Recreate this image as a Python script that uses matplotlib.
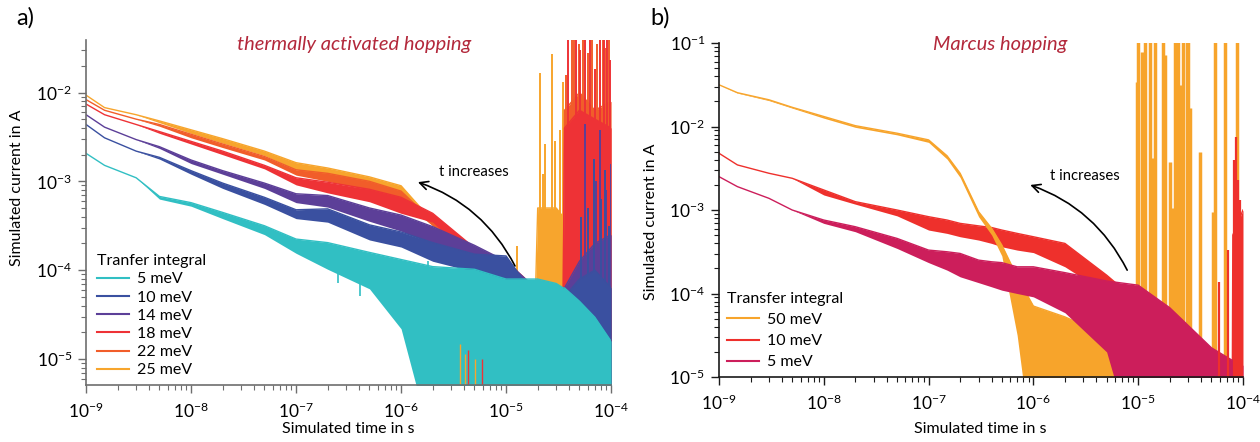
import numpy as np
import matplotlib.pyplot as plt
from matplotlib.ticker import LogLocator, NullFormatter

plt.rcParams['font.family'] = ['Lato', 'DejaVu Sans']
plt.rcParams['mathtext.default'] = 'regular'

# ---- panel a) thermally activated hopping ; currents as log10(I / A) ----
t_a = [1e-9, 1.5e-9, 3e-9, 5e-9, 1e-8, 2e-8, 5e-8, 1e-7, 2e-7, 5e-7, 1e-6, 2e-6,
       5e-6, 1e-5, 1.9e-5, 2e-5, 3e-5, 3.5e-5, 3.6e-5, 5e-5, 7e-5, 1e-4]

a5_hi = [-2.685, -2.82, -2.96, -3.17, -3.24, -3.35, -3.50, -3.65, -3.69, -3.80, -3.88,
         -3.96, -3.99, -4.10, -4.10, -4.10, -4.15, -4.20, -4.20, -4.35, -4.53, -4.80]
a5_lo = [-2.685, -2.82, -2.96, -3.20, -3.28, -3.42, -3.60, -3.81, -3.99, -4.21, -4.66,
         -6, -6, -6, -6, -6, -6, -6, -6, -6, -6, -6]
a10_hi = [-2.36, -2.51, -2.66, -2.73, -2.88, -3.02, -3.18, -3.32, -3.31, -3.49, -3.57,
          -3.69, -3.82, -3.84, -4.30, -4.30, -4.30, -4.30, -4.30, -4.10, -4.00, -4.20]
a10_lo = [-2.36, -2.51, -2.66, -2.75, -2.92, -3.08, -3.26, -3.42, -3.46, -3.66, -3.74,
          -3.90, -4.02, -4.20, -6, -6, -6, -6, -6, -6, -6, -6]
a14_hi = [-2.25, -2.39, -2.53, -2.61, -2.76, -2.88, -3.02, -3.14, -3.16, -3.30, -3.38,
          -3.51, -3.72, -3.90, -4.20, -4.20, -4.20, -4.20, -4.20, -3.90, -3.70, -3.60]
a14_lo = [-2.25, -2.39, -2.53, -2.63, -2.80, -2.92, -3.08, -3.24, -3.29, -3.45, -3.56,
          -3.71, -3.88, -4.00, -6, -6, -6, -6, -6, -6, -6, -6]
a18_hi = [-2.13, -2.25, -2.36, -2.44, -2.55, -2.66, -2.82, -2.96, -3.01, -3.09, -3.18,
          -3.36, -3.75, -3.90, -4.20, -4.20, -4.20, -4.20, -2.40, -2.20, -2.30, -2.40]
a18_lo = [-2.13, -2.25, -2.36, -2.46, -2.58, -2.70, -2.86, -3.04, -3.13, -3.23, -3.36,
          -3.46, -3.90, -4.00, -6, -6, -6, -6, -6, -6, -6, -6]
a22_hi = [-2.08, -2.20, -2.30, -2.36, -2.47, -2.58, -2.72, -2.87, -2.91, -3.00, -3.11,
          -3.45, -3.80, -4.20, -4.20, -4.20, -4.20, -4.20, -2.20, -2.00, -2.20, -2.10]
a22_lo = [-2.08, -2.20, -2.30, -2.38, -2.51, -2.62, -2.76, -2.93, -3.00, -3.10, -3.22,
          -3.50, -3.90, -4.30, -6, -6, -6, -6, -6, -6, -6, -6]
a25_hi = [-2.03, -2.17, -2.25, -2.32, -2.42, -2.52, -2.66, -2.79, -2.85, -2.95, -3.05,
          -3.45, -3.80, -4.30, -4.30, -3.30, -3.30, -3.40, -4.30, -4.50, -4.50, -4.50]
a25_lo = [-2.03, -2.17, -2.25, -2.34, -2.46, -2.57, -2.71, -2.87, -2.95, -3.05, -3.15,
          -3.50, -3.90, -4.40, -6, -6, -6, -6, -6, -6, -6, -6]

# single spikes (time, log10 of tip)
a25_spk_t = [1.27e-5, 2.11e-5, 2.25e-5, 2.35e-5, 2.74e-5, 2.93e-5, 3.27e-5, 3.49e-5]
a25_spk_y = [-3.73, -1.78, -2.92, -2.58, -1.57, -2.55, -2.42, -1.88]
a22_spk_t = [3.72e-5, 4.2e-5, 4.4e-5, 4.9e-5, 5.4e-5, 6.0e-5, 6.6e-5, 7.4e-5, 8.4e-5, 8.9e-5, 9.6e-5]
a22_spk_y = [-1.80, -1.3, -1.3, -1.45, -1.3, -1.55, -1.3, -1.45, -1.3, -1.5, -1.3]
a18_spk_t = [3.9e-5, 4.65e-5, 5.1e-5, 5.65e-5, 6.3e-5, 7.05e-5, 7.85e-5, 8.6e-5, 9.2e-5, 9.8e-5]
a18_spk_y = [-1.3, -1.3, -1.52, -1.3, -1.3, -1.74, -1.3, -1.3, -1.3, -1.63]
a14_spk_t = [5.65e-5, 7.2e-5, 7.85e-5, 9.0e-5, 9.9e-5]
a14_spk_y = [-2.36, -3.0, -2.42, -3.1, -2.8]
a10_spk_t = [5.2e-5, 6.0e-5, 6.8e-5, 8.0e-5, 8.8e-5, 9.5e-5]
a10_spk_y = [-3.4, -3.3, -2.75, -3.2, -2.87, -3.5]
a5_dip_t = [2.5e-7, 4.07e-7, 7.5e-7, 1.22e-6, 1.81e-6]
a5_dip_y = [-4.15, -4.29, -4.40, -4.85, -6.0]
a_low_t = [3.65e-6, 4.07e-6, 4.35e-6, 5.07e-6, 5.9e-6]
a_low_y = [-4.83, -4.94, -4.90, -5.0, -5.0]

# ---- panel b) Marcus hopping ----
t_b = [1e-9, 1.5e-9, 3e-9, 5e-9, 1e-8, 2e-8, 5e-8, 1e-7, 1.5e-7, 2e-7, 3e-7, 4e-7,
       5e-7, 7e-7, 1e-6, 2e-6, 5e-6, 1e-5, 2e-5, 5e-5, 7.9e-5, 8e-5, 1e-4]

b50_hi = [-1.50, -1.595, -1.68, -1.77, -1.88, -1.99, -2.08, -2.16, -2.35, -2.56, -3.02, -3.22,
          -3.42, -3.80, -4.15, -4.28, -4.50, -4.70, -4.80, -5.2, -5.2, -5.2, -5.2]
b50_lo = [-1.50, -1.60, -1.69, -1.78, -1.90, -2.01, -2.10, -2.19, -2.39, -2.61, -3.08, -3.30,
          -3.55, -4.50, -6, -6, -6, -6, -6, -6, -6, -6, -6]
b10_hi = [-2.32, -2.46, -2.56, -2.62, -2.76, -2.90, -3.00, -3.08, -3.12, -3.16, -3.19, -3.21,
          -3.24, -3.28, -3.32, -3.40, -3.78, -4.10, -4.60, -5.20, -5.20, -3.30, -3.00]
b10_lo = [-2.32, -2.46, -2.56, -2.62, -2.82, -2.93, -3.07, -3.24, -3.28, -3.32, -3.36, -3.40,
          -3.44, -3.48, -3.51, -3.68, -4.00, -6, -6, -6, -6, -6, -6]
b5_hi = [-2.60, -2.72, -2.86, -3.00, -3.12, -3.20, -3.34, -3.48, -3.50, -3.52, -3.60, -3.62,
         -3.63, -3.68, -3.68, -3.75, -3.85, -3.90, -4.17, -4.65, -4.80, -4.80, -4.86]
b5_lo = [-2.60, -2.72, -2.86, -3.00, -3.16, -3.26, -3.46, -3.63, -3.72, -3.80, -3.87, -3.92,
         -3.96, -4.00, -4.04, -4.23, -4.70, -6, -6, -6, -6, -6, -6]

b50_spk_t = [9.75e-6, 9.95e-6, 1.09e-5, 1.16e-5, 1.30e-5, 1.38e-5, 1.45e-5, 1.73e-5, 1.80e-5,
             2.01e-5, 2.15e-5, 2.25e-5, 2.40e-5, 2.51e-5, 2.67e-5, 2.92e-5, 2.98e-5, 3.12e-5,
             3.89e-5, 5.18e-5, 5.41e-5, 6.73e-5, 8.77e-5]
b50_spk_y = [-1.47, -0.9, -1.11, -0.9, -0.9, -2.38, -0.9, -0.9, -1.14, -2.43, -2.98, -0.9,
             -0.9, -1.50, -0.9, -0.9, -0.9, -1.78, -2.31, -3.02, -0.9, -0.9, -0.9]
b10_spk_t = [5.9e-5, 7.2e-5, 8.2e-5, 8.57e-5, 8.96e-5, 9.37e-5, 9.8e-5]
b10_spk_y = [-3.86, -3.48, -2.40, -2.13, -2.64, -2.88, -3.24]

x_ticks = [1e-9, 1e-8, 1e-7, 1e-6, 1e-5, 1e-4]
a_yticks = [1e-5, 1e-4, 1e-3, 1e-2]
b_yticks = [1e-5, 1e-4, 1e-3, 1e-2, 1e-1]

c5, c10, c14, c18, c22, c25 = '#31bfc3', '#3a50a0', '#5c3f98', '#ee3236', '#f15d2a', '#f7a52d'
m50, m10, m5 = '#f7a42b', '#ee302c', '#cc1e5b'
title_col = '#b3283b'


def band(ax, t, hi, lo, color, label, z):
    hi = 10.0 ** np.array(hi)
    lo = 10.0 ** np.array(lo)
    ax.fill_between(t, lo, hi, color=color, lw=0, zorder=z)
    line, = ax.plot(t, hi, color=color, lw=1.0, label=label, zorder=z)
    return line


def spikes(ax, t, tips, base, color, z, lw=1.4):
    ax.vlines(t, 10.0 ** base, 10.0 ** np.array(tips), color=color, lw=lw, zorder=z)


def style(ax, ylim, yticks, spine_col):
    ax.set_xscale('log')
    ax.set_yscale('log')
    ax.set_xlim(1e-9, 1e-4)
    ax.set_ylim(*ylim)
    ax.set_xticks(x_ticks)
    ax.set_yticks(yticks)
    for s in ['top', 'right']:
        ax.spines[s].set_visible(False)
    for s in ['left', 'bottom']:
        ax.spines[s].set_color(spine_col)
        ax.spines[s].set_linewidth(1.2)
        ax.spines[s].set_zorder(20)
    for axis in [ax.xaxis, ax.yaxis]:
        axis.set_minor_locator(LogLocator(base=10, subs=np.arange(2, 10), numticks=20))
        axis.set_minor_formatter(NullFormatter())
    ax.tick_params(which='major', length=6, width=1, color=spine_col, labelsize=12.5)
    ax.tick_params(which='minor', length=3.5, width=0.8, color=spine_col)
    ax.tick_params(axis='x', which='major', pad=6)
    ax.tick_params(axis='y', which='major', pad=4)


fig = plt.figure(figsize=(12.6, 4.42), dpi=100)

# ---------------- panel a ----------------
ax1 = fig.add_axes([0.0683, 0.129, 0.4167, 0.7805])
l25 = band(ax1, t_a, a25_hi, a25_lo, c25, '25 meV', 2)
spikes(ax1, a25_spk_t, a25_spk_y, -4.2, c25, 2)
l22 = band(ax1, t_a, a22_hi, a22_lo, c22, '22 meV', 3)
spikes(ax1, a22_spk_t, a22_spk_y, -4.0, c22, 3)
l18 = band(ax1, t_a, a18_hi, a18_lo, c18, '18 meV', 4)
spikes(ax1, a18_spk_t, a18_spk_y, -4.0, c18, 4)
l14 = band(ax1, t_a, a14_hi, a14_lo, c14, '14 meV', 5)
spikes(ax1, a14_spk_t, a14_spk_y, -4.0, c14, 5)
l10 = band(ax1, t_a, a10_hi, a10_lo, c10, '10 meV', 6)
spikes(ax1, a10_spk_t, a10_spk_y, -4.2, c10, 6)
l5 = band(ax1, t_a, a5_hi, a5_lo, c5, '5 meV', 7)
ax1.vlines(a5_dip_t, 10.0 ** np.array(a5_dip_y), 10.0 ** -3.9, color=c5, lw=1.2, zorder=7)
ax1.vlines(a_low_t, 1e-6, 10.0 ** np.array(a_low_y), color=[c25, c25, c18, c25, c18],
           lw=1.0, zorder=8)
style(ax1, (5.1e-6, 0.039), a_yticks, '#6e6e6e')

leg1 = ax1.legend(handles=[l5, l10, l14, l18, l22, l25], title='Tranfer integral',
                  loc='upper left', bbox_to_anchor=(0.021, 0.379), frameon=False,
                  fontsize=11.5, title_fontsize=11.5, handlelength=2.0, handletextpad=0.5,
                  labelspacing=0.25, borderpad=0, borderaxespad=0, alignment='left')
leg1.set_zorder(30)
for h in leg1.legend_handles:
    h.set_linewidth(1.5)

ax1.text(0.51, 0.971, 'thermally activated hopping', transform=ax1.transAxes,
         ha='center', va='baseline', fontsize=14.5, style='italic', color=title_col)
ax1.text(0.739, 0.617, 't increases', transform=ax1.transAxes, ha='center', va='center',
         fontsize=10.7, zorder=30)
ax1.annotate('', xy=(0.632, 0.588), xycoords='axes fraction',
             xytext=(0.817, 0.345), textcoords='axes fraction',
             arrowprops=dict(arrowstyle='->,head_length=0.6,head_width=0.3', lw=1.2,
                             color='black', connectionstyle='arc3,rad=0.2',
                             shrinkA=0, shrinkB=0), zorder=30)
ax1.set_xlabel('Simulated time in s', fontsize=11.5)
ax1.set_ylabel('Simulated current in A', fontsize=11.5)
ax1.xaxis.set_label_coords(0.5, -0.108)
ax1.yaxis.set_label_coords(-0.118, 0.571)

# ---------------- panel b ----------------
ax2 = fig.add_axes([0.5706, 0.147, 0.4159, 0.7557])
r10 = band(ax2, t_b, b10_hi, b10_lo, m10, '10 meV', 2)
r50 = band(ax2, t_b, b50_hi, b50_lo, m50, '50 meV', 3)
spikes(ax2, b50_spk_t, b50_spk_y, -6, m50, 3, lw=2.5)
r5 = band(ax2, t_b, b5_hi, b5_lo, m5, '5 meV', 4)
spikes(ax2, b10_spk_t, b10_spk_y, -5.0, m10, 5, lw=1.6)
style(ax2, (1e-5, 1e-1), b_yticks, '#1a1a1a')

leg2 = ax2.legend(handles=[r50, r10, r5], title='Transfer integral',
                  loc='upper left', bbox_to_anchor=(0.015, 0.255), frameon=False,
                  fontsize=11.5, title_fontsize=11.5, handlelength=2.0, handletextpad=0.5,
                  labelspacing=0.44, borderpad=0, borderaxespad=0, alignment='left')
leg2.set_zorder(30)
for h in leg2.legend_handles:
    h.set_linewidth(1.5)

ax2.text(0.536, 0.979, 'Marcus hopping', transform=ax2.transAxes,
         ha='center', va='baseline', fontsize=14.5, style='italic', color=title_col)
ax2.text(0.698, 0.602, 't increases', transform=ax2.transAxes, ha='center', va='center',
         fontsize=10.7, zorder=30)
ax2.annotate('', xy=(0.594, 0.575), xycoords='axes fraction',
             xytext=(0.779, 0.320), textcoords='axes fraction',
             arrowprops=dict(arrowstyle='->,head_length=0.6,head_width=0.3', lw=1.2,
                             color='black', connectionstyle='arc3,rad=0.2',
                             shrinkA=0, shrinkB=0), zorder=30)
ax2.set_xlabel('Simulated time in s', fontsize=11.5)
ax2.set_ylabel('Simulated current in A', fontsize=11.5)
ax2.xaxis.set_label_coords(0.498, -0.135)
ax2.yaxis.set_label_coords(-0.116, 0.464)

fig.text(0.0198, 0.959, 'a)', fontsize=17, ha='center', va='center')
fig.text(0.524, 0.959, 'b)', fontsize=17, ha='center', va='center')

fig.savefig('out.png', dpi=100)
